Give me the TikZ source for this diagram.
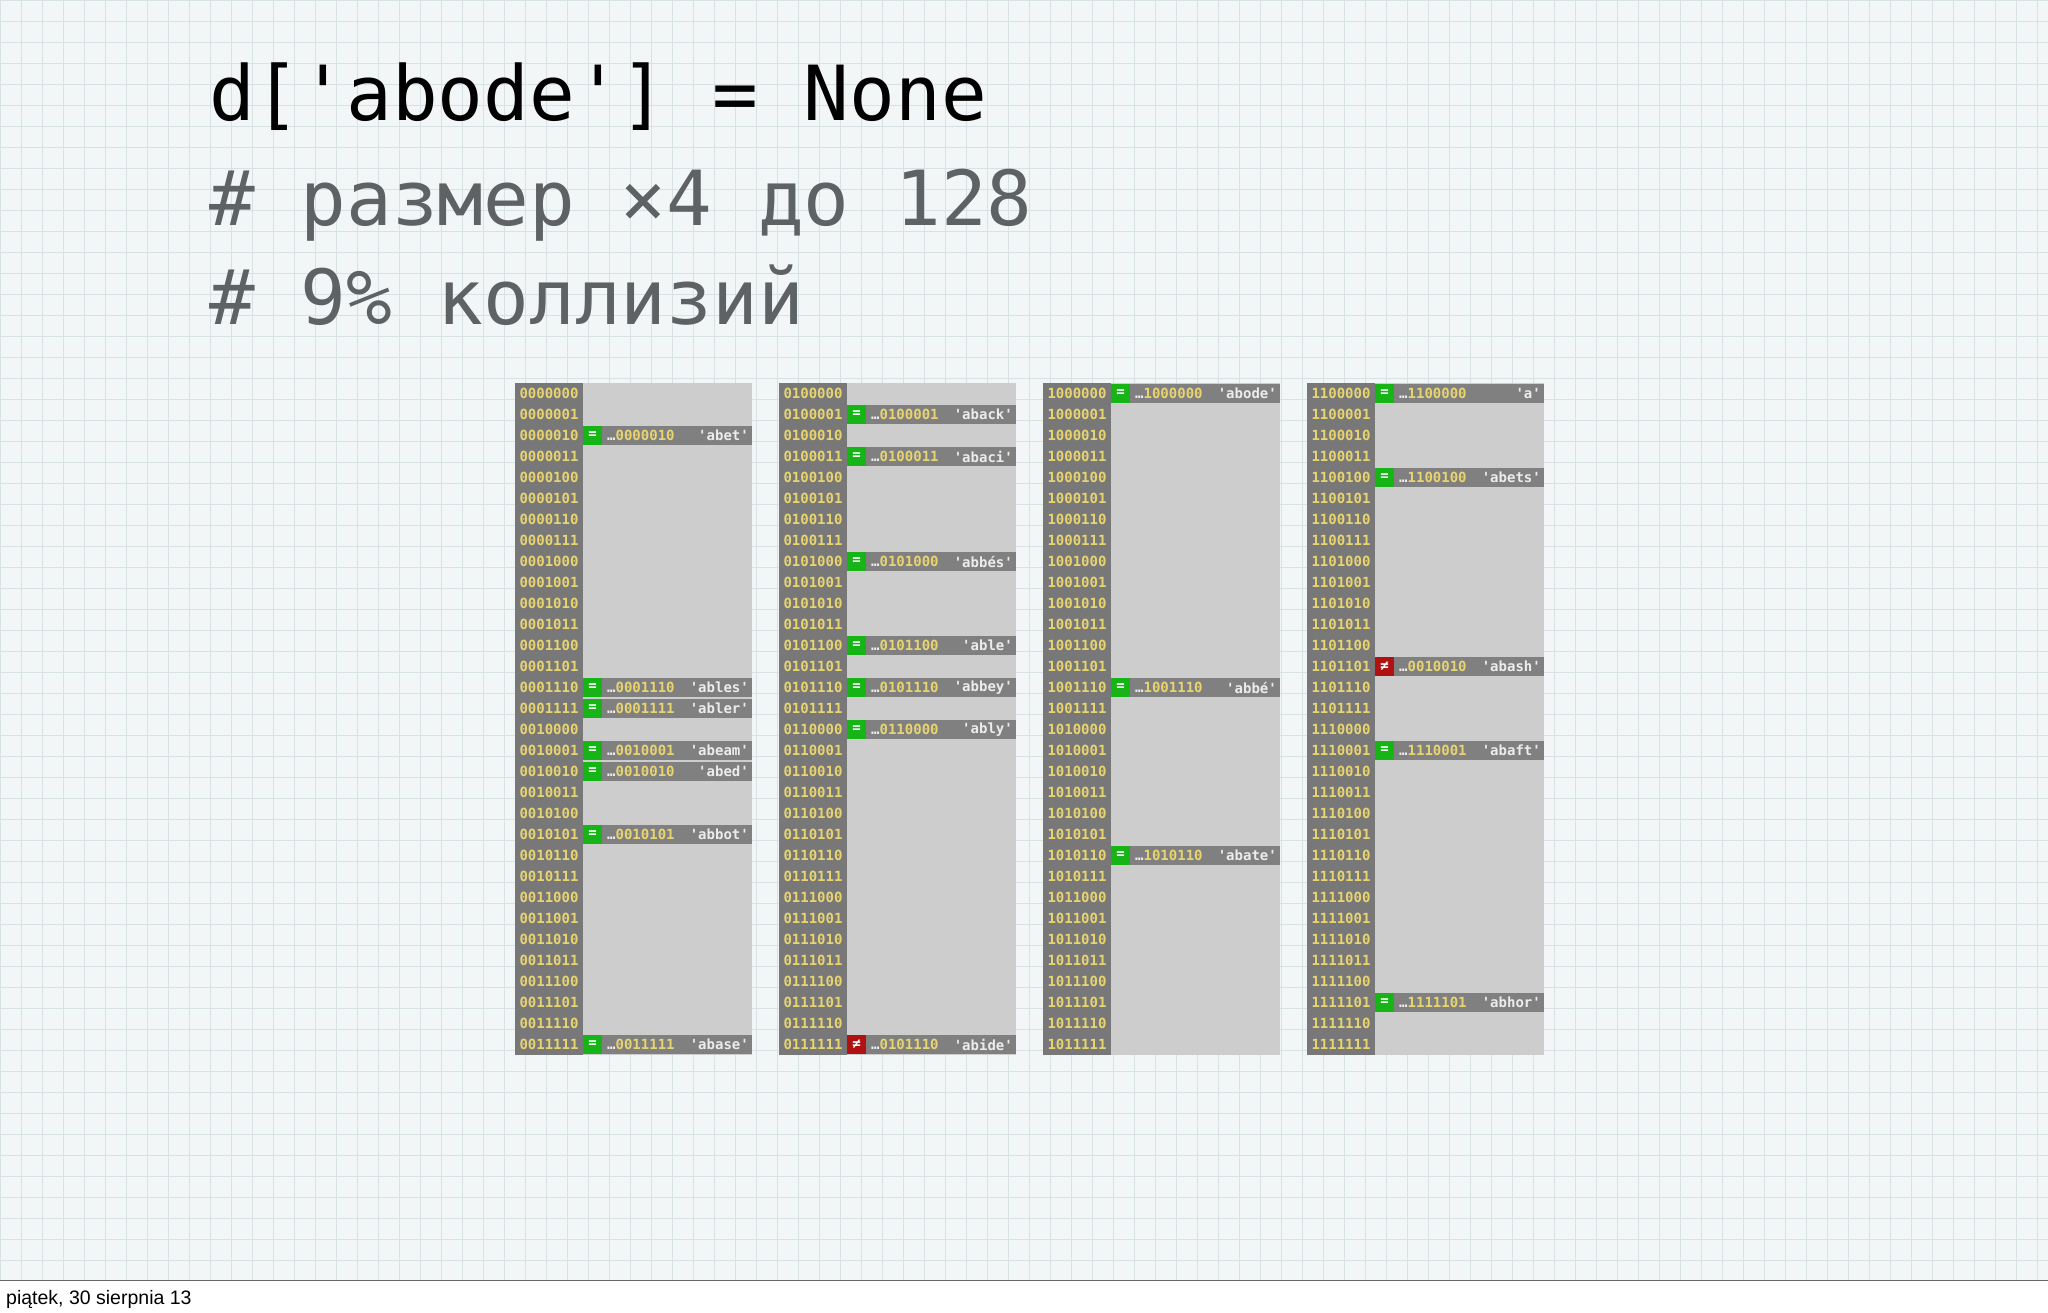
\documentclass[tikz,border=0pt]{standalone}
\usepackage{fontspec}
\setmainfont{Liberation Sans}
\newfontfamily\monof{DejaVu Sans Mono}
\definecolor{bgc}{HTML}{F3F6F6}
\definecolor{gridc}{HTML}{D8E2E4}
\definecolor{lab}{HTML}{787878}
\definecolor{cell}{HTML}{CDCDCD}
\definecolor{barc}{HTML}{808080}
\definecolor{yel}{HTML}{E8D470}
\definecolor{grn}{HTML}{16B416}
\definecolor{rd}{HTML}{B01212}
\definecolor{wrd}{HTML}{ECECEC}
\definecolor{txtg}{HTML}{5E6264}
\tikzset{
 bigtxt/.style={anchor=base west, inner sep=0pt, font=\monof\fontsize{76}{76}\selectfont},
 bintxt/.style={inner sep=0pt, text=yel, font=\monof\bfseries\fontsize{14}{14}\selectfont},
 wordtxt/.style={inner sep=0pt, text=wrd, font=\monof\bfseries\fontsize{14}{14}\selectfont},
}
\newcommand\myentry[6]{% col row color symbol bits word
 \pgfmathsetmacro\ex{515+264*#1}
 \pgfmathsetmacro\ey{383+21*#2}
 \fill[barc] (\ex+68,\ey+1) rectangle (\ex+237,\ey+20);
 \fill[#3] (\ex+68,\ey+1) rectangle (\ex+87,\ey+20);
 \node[wordtxt, text=white] (s#1-#2) at (\ex+77.5,\ey+10.5) {#4};
 \node[bintxt, anchor=west] (b#1-#2) at (\ex+92,\ey+10.5) {\textcolor{wrd}{…}#5};
 \node[wordtxt, anchor=east] (w#1-#2) at (\ex+234,\ey+10.5) {'#6'};
}
\begin{document}
\begin{tikzpicture}[x=1pt,y=-1pt]
\useasboundingbox (0,0) rectangle (2048,1312);
\fill[bgc] (0,0) rectangle (2048,1280);
\draw[gridc, line width=0.8pt, step=21pt] (0,0) grid (2048,1280);
\fill[white] (0,1280) rectangle (2048,1312);
\draw[black!60, line width=1pt] (0,1280) -- (2048,1280);
\node[bigtxt] (l1) at (209,120) {d['abode'] = None};
\node[bigtxt, text=txtg] (l2) at (209,225) {\# размер ×4 до 128};
\node[bigtxt, text=txtg] (l3) at (209,324) {\# 9\% коллизий};
\node[anchor=base west, inner sep=0pt, font=\fontsize{19.5}{19.5}\selectfont] (foot) at (6,1304) {piątek, 30 sierpnia 13};
\foreach \c/\p in {0/00,1/01,2/10,3/11}{
 \pgfmathsetmacro\cx{515+264*\c}
 \fill[lab] (\cx,383) rectangle (\cx+68,1055);
 \fill[cell] (\cx+68,383) rectangle (\cx+237,1055);
 \foreach \r in {0,...,31}{
  \pgfmathtruncatemacro\ba{mod(floor(\r/16),2)}
  \pgfmathtruncatemacro\bb{mod(floor(\r/8),2)}
  \pgfmathtruncatemacro\bc{mod(floor(\r/4),2)}
  \pgfmathtruncatemacro\bd{mod(floor(\r/2),2)}
  \pgfmathtruncatemacro\be{mod(\r,2)}
  \node[bintxt] (n\c-\r) at (\cx+34,383+21*\r+10.5) {\p\ba\bb\bc\bd\be};
 }
}
\myentry{0}{2}{grn}{=}{0000010}{abet}
\myentry{0}{14}{grn}{=}{0001110}{ables}
\myentry{0}{15}{grn}{=}{0001111}{abler}
\myentry{0}{17}{grn}{=}{0010001}{abeam}
\myentry{0}{18}{grn}{=}{0010010}{abed}
\myentry{0}{21}{grn}{=}{0010101}{abbot}
\myentry{0}{31}{grn}{=}{0011111}{abase}
\myentry{1}{1}{grn}{=}{0100001}{aback}
\myentry{1}{3}{grn}{=}{0100011}{abaci}
\myentry{1}{8}{grn}{=}{0101000}{abbés}
\myentry{1}{12}{grn}{=}{0101100}{able}
\myentry{1}{14}{grn}{=}{0101110}{abbey}
\myentry{1}{16}{grn}{=}{0110000}{ably}
\myentry{1}{31}{rd}{≠}{0101110}{abide}
\myentry{2}{0}{grn}{=}{1000000}{abode}
\myentry{2}{14}{grn}{=}{1001110}{abbé}
\myentry{2}{22}{grn}{=}{1010110}{abate}
\myentry{3}{0}{grn}{=}{1100000}{a}
\myentry{3}{4}{grn}{=}{1100100}{abets}
\myentry{3}{13}{rd}{≠}{0010010}{abash}
\myentry{3}{17}{grn}{=}{1110001}{abaft}
\myentry{3}{29}{grn}{=}{1111101}{abhor}
\end{tikzpicture}
\end{document}
